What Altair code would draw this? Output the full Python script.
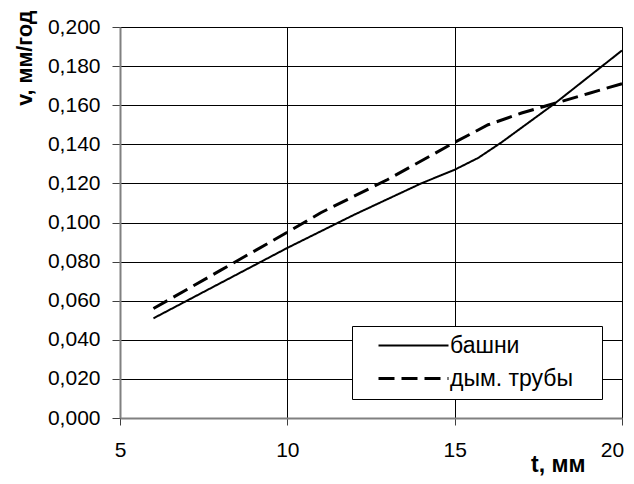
import altair as alt
import pandas as pd

# series data
t_towers = [6, 8, 10, 12, 14, 15, 15.7, 16.4, 18, 20]
v_towers = [0.051, 0.069, 0.087, 0.104, 0.120, 0.127, 0.133, 0.141, 0.161, 0.188]

t_chimneys = [6, 8, 10, 11, 13, 15, 16, 17, 18, 19, 20]
v_chimneys = [0.056, 0.0755, 0.095, 0.105, 0.122, 0.141, 0.150, 0.156, 0.161, 0.166, 0.171]

series_names = ["башни", "дым. трубы"]
x_ticks = [5, 10, 15, 20]
y_ticks = [0.0, 0.02, 0.04, 0.06, 0.08, 0.10, 0.12, 0.14, 0.16, 0.18, 0.20]

df = pd.concat([
    pd.DataFrame({"t": t_towers, "v": v_towers, "s": series_names[0]}),
    pd.DataFrame({"t": t_chimneys, "v": v_chimneys, "s": series_names[1]}),
])

FONT = "Liberation Sans"

chart = alt.Chart(df).mark_line(color="black").encode(
    x=alt.X("t:Q",
            scale=alt.Scale(domain=[5, 20], nice=False, zero=False),
            axis=alt.Axis(values=x_ticks, title="t, мм", grid=True,
                          gridColor="black", gridWidth=1,
                          domainColor="#808080", domainWidth=2,
                          tickColor="#404040", tickSize=7, tickWidth=1,
                          labelFont=FONT, labelFontSize=21, labelColor="black",
                          labelPadding=14, labelFlush=False,
                          labelOffset={"condition": {"test": "datum.value == 20", "value": -10},
                                       "value": 0},
                          titleFont=FONT, titleFontSize=23, titleFontWeight="bold",
                          titleColor="black",
                          titleX=465, titleY=58, titleAlign="right",
                          titleBaseline="bottom")),
    y=alt.Y("v:Q",
            scale=alt.Scale(domain=[0, 0.2], nice=False),
            axis=alt.Axis(values=y_ticks, title="v, мм/год", grid=True,
                          gridColor="black", gridWidth=1,
                          domainColor="#808080", domainWidth=2,
                          tickColor="#404040", tickSize=8, tickWidth=1,
                          labelExpr="replace(format(datum.value, '.3f'), '.', ',')",
                          labelFont=FONT, labelFontSize=21, labelColor="black",
                          labelPadding=12, labelFlush=False,
                          titleFont=FONT, titleFontSize=21.5, titleFontWeight="bold",
                          titleColor="black", titleAngle=270,
                          titleX=-95, titleY=-17, titleAlign="right",
                          titleBaseline="middle")),
    strokeDash=alt.StrokeDash("s:N",
                              scale=alt.Scale(domain=series_names,
                                              range=[[1, 0], [16, 7]]),
                              legend=alt.Legend(title="\u00a0", titleOrient="right",
                                                titlePadding=21, titleFontSize=10,
                                                orient="none",
                                                legendX=232, legendY=299,
                                                symbolType="M-3.5,0H3.5",
                                                symbolSize=400,
                                                symbolStrokeColor="black",
                                                symbolStrokeWidth=2.5,
                                                symbolOffset=42,
                                                labelFont=FONT, labelFontSize=23,
                                                labelColor="black",
                                                labelOffset=25,
                                                labelLimit=300,
                                                rowPadding=9,
                                                padding=8,
                                                strokeColor="black",
                                                fillColor="white")),
    strokeWidth=alt.StrokeWidth("s:N",
                                scale=alt.Scale(domain=series_names, range=[2, 3]),
                                legend=None),
).properties(
    width=502, height=391,
    autosize=alt.AutoSizeParams(type="none"),
    padding={"left": 112, "top": 19, "right": 4, "bottom": 58},
).configure_view(stroke="#808080", strokeWidth=1.5).configure(background="white")

chart.save("out.html", embed_options={"renderer": "svg", "actions": False})
